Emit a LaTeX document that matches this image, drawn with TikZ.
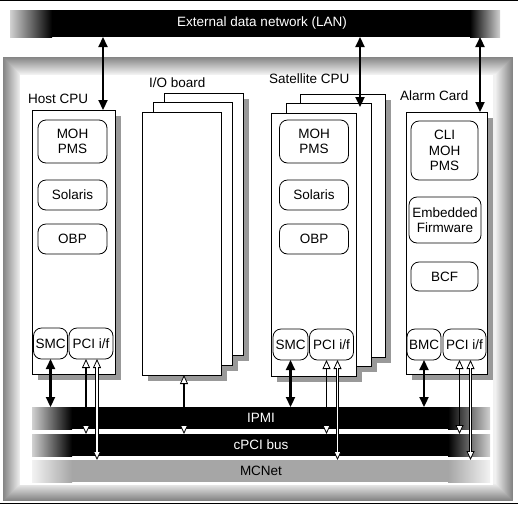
\documentclass[tikz,border=0pt]{standalone}
\usepackage{fontspec}
\setmainfont{Liberation Sans}
\usetikzlibrary{arrows.meta,calc}
\definecolor{shd}{gray}{0.6}
\begin{document}
\begin{tikzpicture}[x=1pt,y=-1pt, font=\fontsize{13.5}{15.5}\selectfont,
  board/.style={draw, fill=white, line width=0.9pt, inner sep=0pt, outer sep=0pt},
  ibox/.style={draw, rounded corners=8pt, line width=0.8pt, align=center, inner sep=0pt, outer sep=0pt},
  busbar/.style={inner sep=0pt, outer sep=0pt, minimum width=458pt, minimum height=22pt},
  wtp/.tip={Triangle[open, fill=white, line width=0.8pt, length=9pt, width=8pt]},
  btp/.tip={Triangle[length=10pt, width=9pt]},
  bk/.style={line width=2.2pt, btp-btp},
  pl/.style={line width=1.6pt, wtp-wtp},
  dl/.style={line width=3.2pt, wtp-wtp},
  dlc/.style={white, line width=1.3pt, shorten <=8pt, shorten >=8pt}
]
\useasboundingbox (0,0) rectangle (518,504);
% outer border lines
\fill[black] (0,0) rectangle (518,1);
\fill[black] (0,502.5) rectangle (518,504);
% bevelled frame
\foreach \i in {0,...,17}{
  \pgfmathsetmacro\c{48-2.5*\i}
  \fill[black!\c] (3+\i,57+\i) rectangle (513-\i,501-\i);
}
\fill[white] (20,75) rectangle (493,485);

% LAN bar
\fill[black] (52,10) rectangle (470,37);
\shade[left color=black!18, right color=black] (10,10) rectangle (52,37);
\shade[left color=black, right color=black!18] (470,10) rectangle (500,37);
\node[inner sep=0pt, outer sep=0pt, minimum width=490pt, minimum height=27pt] (lan) at (255,23.5) {};
\node[text=white] (lantxt) at (262,23.5) {External data network (LAN)};

% labels
\node[anchor=base west, inner sep=0pt] (lhost) at (28,103) {Host CPU};
\node[anchor=base west, inner sep=0pt] (lio) at (149,87) {I/O board};
\node[anchor=base west, inner sep=0pt] (lsat) at (269,83) {Satellite CPU};
\node[anchor=base west, inner sep=0pt] (lalarm) at (400,100) {Alarm Card};

% shadows
\fill[shd] (38,116) rectangle (121,380);
\fill[shd] (170,99) rectangle (249,361);
\fill[shd] (159,108) rectangle (238,371);
\fill[shd] (148,118) rectangle (227,381);
\fill[shd] (306,100) rectangle (391,363);
\fill[shd] (292,109) rectangle (377,372);
\fill[shd] (277,119) rectangle (362,382);
\fill[shd] (412,118) rectangle (493,380);

% Host CPU
\node[board, minimum width=83pt, minimum height=264pt] (host) at (73.5,242) {};
\node[ibox, minimum width=69pt, minimum height=43pt] (hmoh) at (72.5,141.5) {MOH\\PMS};
\node[ibox, minimum width=69pt, minimum height=30pt] (hsol) at (72.5,195) {Solaris};
\node[ibox, minimum width=69pt, minimum height=30pt] (hobp) at (72.5,239) {OBP};
\node[ibox, minimum width=34pt, minimum height=31pt] (hsmc) at (50.5,343.5) {SMC};
\node[ibox, minimum width=44pt, minimum height=31pt] (hpci) at (91,343.5) {PCI i/f};

% I/O boards
\node[board, minimum width=79pt, minimum height=262pt] (io3) at (203.5,224) {};
\node[board, minimum width=79pt, minimum height=263pt] (io2) at (192.5,233.5) {};
\node[board, minimum width=79pt, minimum height=263pt] (io1) at (181.5,243.5) {};

% Satellite CPUs
\node[board, minimum width=85pt, minimum height=263pt] (sat3) at (342.5,225.5) {};
\node[board, minimum width=85pt, minimum height=263pt] (sat2) at (328.5,234.5) {};
\node[board, minimum width=85pt, minimum height=263pt] (sat1) at (313.5,244.5) {};
\node[ibox, minimum width=69pt, minimum height=43pt] (smoh) at (314,141.5) {MOH\\PMS};
\node[ibox, minimum width=69pt, minimum height=30pt] (ssol) at (314,195) {Solaris};
\node[ibox, minimum width=69pt, minimum height=30pt] (sobp) at (314,239) {OBP};
\node[ibox, minimum width=35pt, minimum height=31pt] (ssmc) at (290.5,344.5) {SMC};
\node[ibox, minimum width=44pt, minimum height=31pt] (spci) at (331.5,344.5) {PCI i/f};

% Alarm card
\node[board, minimum width=81pt, minimum height=262pt] (alarm) at (446.5,243) {};
\node[ibox, minimum width=67pt, minimum height=59pt] (acli) at (444.5,150.5) {CLI\\MOH\\PMS};
\node[ibox, minimum width=72pt, minimum height=46pt] (aemb) at (445,220) {Embedded\\Firmware};
\node[ibox, minimum width=67pt, minimum height=29pt] (abcf) at (444.5,276.5) {BCF};
\node[ibox, minimum width=34pt, minimum height=31pt] (abmc) at (424,344.5) {BMC};
\node[ibox, minimum width=43pt, minimum height=31pt] (apci) at (464.5,344.5) {PCI i/f};

% buses
\fill[black] (72,407) rectangle (448,429);
\shade[left color=black!18, right color=black] (32,407) rectangle (72,429);
\shade[left color=black, right color=black!18] (448,407) rectangle (490,429);
\node[busbar, text=white] (ipmi) at (261,418) {IPMI};
\fill[black] (72,434) rectangle (448,456);
\shade[left color=black!18, right color=black] (32,434) rectangle (72,456);
\shade[left color=black, right color=black!18] (448,434) rectangle (490,456);
\node[busbar, text=white] (cpci) at (261,445) {cPCI bus};
\fill[black!35] (72,460) rectangle (448,482);
\shade[left color=black!5, right color=black!35] (32,460) rectangle (72,482);
\shade[left color=black!35, right color=black!5] (448,460) rectangle (490,482);
\node[busbar] (mcnet) at (261,471) {MCNet};

% LAN connectors
\coordinate (hlan) at (103,110);
\coordinate (slan) at (360,107);
\coordinate (alan) at (480,112);
\draw[bk] (hlan |- lan.south) -- (hlan);
\draw[bk] (slan |- lan.south) -- (slan);
\draw[bk] (alan |- lan.south) -- (alan);

% Host CPU to buses
\draw[bk] (hsmc.south) -- (hsmc.south |- ipmi.north);
\draw[pl] ([xshift=-5pt]hpci.south) -- ([xshift=-5pt]hpci.south |- cpci.north);
\draw[dl] ([xshift=6pt]hpci.south) -- ([xshift=6pt]hpci.south |- mcnet.north);
\draw[dlc] ([xshift=6pt]hpci.south) -- ([xshift=6pt]hpci.south |- mcnet.north);

% I/O board to bus
\draw[pl] ([xshift=2.5pt]io1.south) -- ([xshift=2.5pt]io1.south |- cpci.north);

% Satellite CPU to buses
\draw[bk] (ssmc.south) -- (ssmc.south |- ipmi.north);
\draw[pl] ([xshift=-5pt]spci.south) -- ([xshift=-5pt]spci.south |- cpci.north);
\draw[dl] ([xshift=6pt]spci.south) -- ([xshift=6pt]spci.south |- mcnet.north);
\draw[dlc] ([xshift=6pt]spci.south) -- ([xshift=6pt]spci.south |- mcnet.north);

% Alarm card to buses
\draw[bk] (abmc.south) -- (abmc.south |- ipmi.north);
\draw[pl] ([xshift=-5pt]apci.south) -- ([xshift=-5pt]apci.south |- cpci.north);
\draw[dl] ([xshift=6pt]apci.south) -- ([xshift=6pt]apci.south |- mcnet.north);
\draw[dlc] ([xshift=6pt]apci.south) -- ([xshift=6pt]apci.south |- mcnet.north);
\end{tikzpicture}
\end{document}
